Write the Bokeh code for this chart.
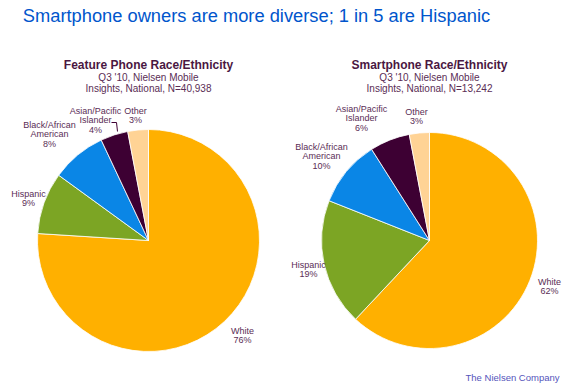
import numpy as np
from bokeh.plotting import figure
from bokeh.models import Range1d
from bokeh.core.properties import value
from bokeh.embed import file_html
from bokeh.resources import INLINE

# ---- data ----
categories = ["White", "Hispanic", "Black/African American", "Asian/Pacific Islander", "Other"]
feature_values = [76, 9, 8, 4, 3]
smart_values = [62, 19, 10, 6, 3]
feature_title = "Feature Phone Race/Ethnicity"
feature_sub = ["Q3 '10, Nielsen Mobile", "Insights, National, N=40,938"]
smart_title = "Smartphone Race/Ethnicity"
smart_sub = ["Q3 '10, Nielsen Mobile", "Insights, National, N=13,242"]
main_title = "Smartphone owners are more diverse; 1 in 5 are Hispanic"
footer = "The Nielsen Company"

# ---- styles / layout ----
colors = ["#FFB000", "#7CA524", "#0A86E6", "#3D0033", "#FFD395"]
cat_lines = [["White"], ["Hispanic"], ["Black/African", "American"],
             ["Asian/Pacific", "Islander"], ["Other"]]
FONT = value("Liberation Sans")
LABEL_COLOR = "#5A2D55"
HEAD_COLOR = "#4A1742"

W, H = 575, 383
p = figure(width=W, height=H, x_range=Range1d(0, W), y_range=Range1d(0, H),
           output_backend="svg", toolbar_location=None, min_border=0)
p.axis.visible = False
p.grid.visible = False
p.outline_line_color = None
p.background_fill_color = "white"


def sy(s):
    return H - s


def pie(cx, cy, r, vals):
    cum = np.cumsum([0] + list(vals)) / 100.0
    start = np.pi / 2 - 2 * np.pi * cum[:-1]
    end = np.pi / 2 - 2 * np.pi * cum[1:]
    p.wedge(x=cx, y=sy(cy), radius=r, start_angle=start, end_angle=end,
            direction="clock", fill_color=colors, line_color="white", line_width=0.8)


def lines_at(x, y, lines, size="9px", color=LABEL_COLOR, style="normal", align="center", step=9.5):
    for i, t in enumerate(lines):
        p.text(x=[x], y=[sy(y + i * step)], text=[t], text_font=FONT, text_font_size=size,
               text_color=color, text_font_style=style, text_align=align, text_baseline="middle")


def labels(pos, vals):
    for (x, y), cl, v in zip(pos, cat_lines, vals):
        lines_at(x, y, cl + [f"{v}%"])


# main title
lines_at(256, 15, [main_title], size="18.3px", color="#0055CC")

# left pie
pie(148, 240, 111, feature_values)
lines_at(148, 64, [feature_title], size="12px", color=HEAD_COLOR, style="bold")
lines_at(148, 76.5, feature_sub, size="10px", color=LABEL_COLOR, step=11.5)
labels([(242, 330), (28, 193), (49, 124), (95, 110), (135, 110)], feature_values)
p.line(x=[111, 116, 117], y=[sy(122), sy(122), sy(131)], line_color="#3D0033", line_width=1)

# right pie
pie(429, 240, 108, smart_values)
lines_at(429, 64, [smart_title], size="12px", color=HEAD_COLOR, style="bold")
lines_at(429, 76.5, smart_sub, size="10px", color=LABEL_COLOR, step=11.5)
labels([(549, 281), (308, 264), (321, 146), (361, 108), (416, 111)], smart_values)

# footer
lines_at(559, 377, [footer], size="9.5px", color="#5555BB", align="right")

open("out.html", "w").write(file_html(p, INLINE))
